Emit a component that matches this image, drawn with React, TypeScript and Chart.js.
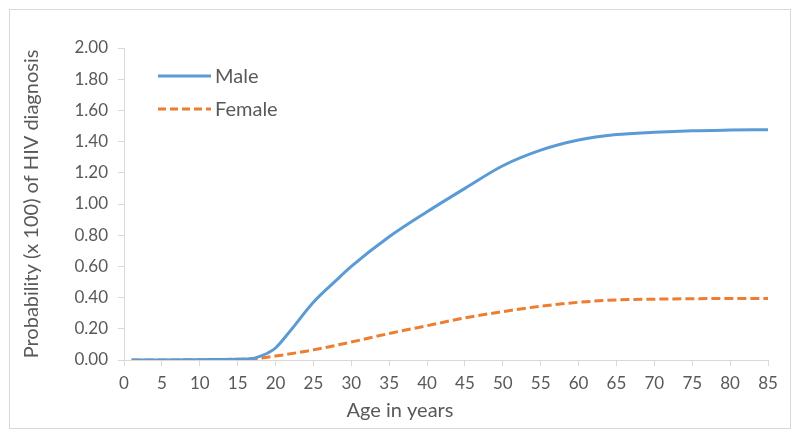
import React, { useEffect, useRef } from "react";
import { Chart, registerables } from "chart.js";

Chart.register(...registerables);

const maleAges = [1, 5, 10, 15, 17, 18, 19, 20, 22, 25, 28, 30, 35, 40, 45, 50, 55, 60, 65, 70, 75, 80, 85];
const maleValues = [0, 0, 0.002, 0.005, 0.01, 0.025, 0.045, 0.077, 0.19, 0.37, 0.51, 0.6, 0.79, 0.95, 1.1, 1.245, 1.345, 1.41, 1.445, 1.46, 1.47, 1.474, 1.476];
const femaleAges = [1, 5, 10, 15, 17, 18, 20, 25, 30, 35, 40, 45, 50, 55, 60, 65, 70, 75, 80, 85];
const femaleValues = [0, 0, 0.002, 0.005, 0.008, 0.012, 0.025, 0.065, 0.115, 0.17, 0.22, 0.27, 0.31, 0.345, 0.37, 0.385, 0.39, 0.393, 0.395, 0.395];
const seriesLabels = ["Male", "Female"];
const xTitle = "Age in years";
const yTitle = "Probability (x 100) of HIV diagnosis";

const FONT = "Lato, 'Open Sans', sans-serif";
const TEXT = "#595959";
const AXIS = "#d9d9d9";
const BLUE = "#5B9BD5";
const ORANGE = "#ED7D31";

const framePlugin = {
  id: "frame",
  beforeDraw(chart: any) {
    const ctx = chart.ctx;
    ctx.save();
    ctx.fillStyle = "#ffffff";
    ctx.fillRect(0, 0, chart.width, chart.height);
    ctx.strokeStyle = AXIS;
    ctx.lineWidth = 1;
    ctx.strokeRect(9.5, 9.5, 781, 419);
    ctx.restore();
  },
};

const textPlugin = {
  id: "insideLegendAndTitle",
  afterDraw(chart: any) {
    const ctx = chart.ctx;
    const area = chart.chartArea;
    ctx.save();
    chart.data.datasets.forEach((ds: any, i: number) => {
      const y = area.top + 28 + i * 33;
      const x0 = area.left + 34;
      ctx.beginPath();
      ctx.strokeStyle = ds.borderColor;
      ctx.lineWidth = 3;
      ctx.setLineDash(ds.borderDash && ds.borderDash.length ? [8, 4] : []);
      ctx.moveTo(x0, y);
      ctx.lineTo(x0 + 53, y);
      ctx.stroke();
      ctx.setLineDash([]);
      ctx.fillStyle = TEXT;
      ctx.font = `20px ${FONT}`;
      ctx.textBaseline = "middle";
      ctx.textAlign = "left";
      ctx.fillText(ds.label, x0 + 57, y + 1);
    });
    ctx.fillStyle = TEXT;
    ctx.font = `20px ${FONT}`;
    ctx.textAlign = "center";
    ctx.textBaseline = "middle";
    ctx.fillText(xTitle, chart.width / 2, 411);
    ctx.restore();
  },
};

export default function App() {
  const ref = useRef<HTMLCanvasElement | null>(null);

  useEffect(() => {
    document.body.style.margin = "0";
    const canvas = ref.current;
    if (!canvas) return;
    const chart = new Chart(canvas, {
      type: "line",
      data: {
        datasets: [
          {
            label: seriesLabels[0],
            data: maleAges.map((a, i) => ({ x: a, y: maleValues[i] })),
            borderColor: BLUE,
            backgroundColor: BLUE,
            borderWidth: 3,
            pointRadius: 0,
            cubicInterpolationMode: "monotone",
          },
          {
            label: seriesLabels[1],
            data: femaleAges.map((a, i) => ({ x: a, y: femaleValues[i] })),
            borderColor: ORANGE,
            backgroundColor: ORANGE,
            borderWidth: 3,
            borderDash: [9, 4],
            pointRadius: 0,
            cubicInterpolationMode: "monotone",
          },
        ],
      },
      options: {
        animation: false,
        responsive: false,
        maintainAspectRatio: false,
        layout: { padding: { left: 0, top: 48, right: 32, bottom: 0 } },
        plugins: {
          legend: { display: false },
          tooltip: { enabled: false },
        },
        scales: {
          x: {
            type: "linear",
            min: 0,
            max: 85,
            afterFit(scale: any) {
              scale.height = 77;
            },
            ticks: {
              stepSize: 5,
              color: TEXT,
              font: { family: FONT, size: 17 },
              padding: 7,
              maxRotation: 0,
            },
            grid: { drawOnChartArea: false, drawTicks: true, tickLength: 6, color: AXIS },
            border: { display: true, color: AXIS, width: 1 },
            title: { display: false },
          },
          y: {
            type: "linear",
            min: 0,
            max: 2,
            afterFit(scale: any) {
              scale.width = 124;
            },
            ticks: {
              stepSize: 0.2,
              color: TEXT,
              font: { family: FONT, size: 17 },
              padding: 10,
              callback: (v: any) => Number(v).toFixed(2),
            },
            grid: { drawOnChartArea: false, drawTicks: true, tickLength: 6, color: AXIS },
            border: { display: true, color: AXIS, width: 1 },
            title: {
              display: true,
              text: yTitle,
              color: TEXT,
              font: { family: FONT, size: 20 },
              padding: { top: 20, bottom: 0 },
            },
          },
        },
      },
      plugins: [framePlugin, textPlugin],
    } as any);
    return () => chart.destroy();
  }, []);

  return (
    <div style={{ position: "fixed", left: 0, top: 0, width: 800, height: 437 }}>
      <canvas ref={ref} width={800} height={437} style={{ width: 800, height: 437 }} />
    </div>
  );
}
